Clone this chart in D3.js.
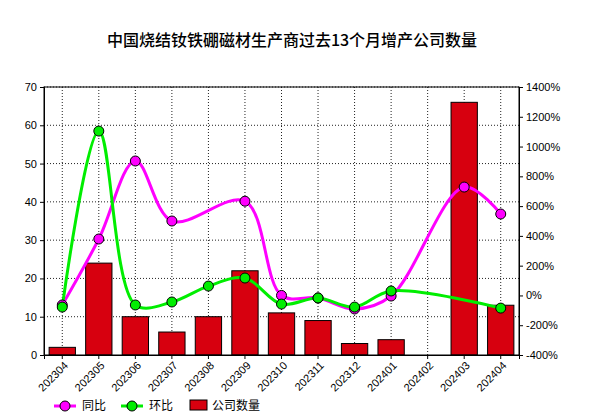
<!DOCTYPE html>
<html><head><meta charset="utf-8">
<script src="https://cdn.jsdelivr.net/npm/d3@7"></script>
<style>body{margin:0;background:#fff;font-family:"Liberation Sans",Arial,sans-serif}</style>
</head><body><div id="chart"></div>
<script>
const months = ['202304','202305','202306','202307','202308','202309','202310','202311','202312','202401','202402','202403','202404']
const counts = [2,24,10,6,10,22,11,9,3,4,0,66,13]
const yoy = [-64,379,903,500,null,633,0,-17,-91,-4,null,728,547]
const mom = [-78,1104,-64,-44,63,117,-58,-17,-78,30,null,null,-85]

const M = { TOP: 87, LEFT: 44, RIGHT: 519, BOTTOM: 355 }
const svg = d3.select('#chart').append('svg').attr('width', 590).attr('height', 416)

svg.append('text').attr('x', 292).attr('y', 46).attr('text-anchor', 'middle')
	.attr('font-size', 16).attr('font-weight', 500).attr('font-family', 'Noto Sans CJK SC').text('中国烧结钕铁硼磁材生产商过去13个月增产公司数量')

const x = d3.scaleBand().domain(months).range([M.LEFT, M.RIGHT]).paddingInner(0.28).paddingOuter(0.14)
const cx = d => x(d) + x.bandwidth() / 2
const yL = d3.scaleLinear().domain([0, 70]).range([M.BOTTOM, M.TOP])
const yR = d3.scaleLinear().domain([-400, 1400]).range([M.BOTTOM, M.TOP])

// grid
const grid = svg.append('g').attr('stroke', '#222').attr('stroke-dasharray', '1,2').attr('stroke-width', 1)
d3.range(10, 71, 10).forEach(v => grid.append('line').attr('x1', M.LEFT).attr('x2', M.RIGHT).attr('y1', yL(v)).attr('y2', yL(v)))
months.forEach(m => grid.append('line').attr('x1', cx(m)).attr('x2', cx(m)).attr('y1', M.TOP).attr('y2', M.BOTTOM))

// bars
svg.append('g').selectAll('rect').data(months).join('rect')
	.attr('x', d => x(d)).attr('width', x.bandwidth())
	.attr('y', (d, i) => yL(counts[i])).attr('height', (d, i) => M.BOTTOM - yL(counts[i]))
	.attr('fill', '#d7000f').attr('stroke', '#000').attr('stroke-width', 1)

svg.append('rect').attr('x', M.LEFT).attr('y', M.TOP).attr('width', M.RIGHT - M.LEFT).attr('height', M.BOTTOM - M.TOP)
	.attr('fill', 'none').attr('stroke', '#000')

// axes
const yAxisL = svg.append('g').attr('transform', `translate(${M.LEFT},0)`)
	.call(d3.axisLeft(yL).tickValues(d3.range(0, 71, 10)).tickSize(4))
const yAxisR = svg.append('g').attr('transform', `translate(${M.RIGHT},0)`)
	.call(d3.axisRight(yR).tickValues(d3.range(-400, 1401, 200)).tickSize(4).tickFormat(d => d + '%'))
const xAxis = svg.append('g').attr('transform', `translate(0,${M.BOTTOM})`)
	.call(d3.axisBottom(x).tickSize(4))
xAxis.selectAll('text').attr('transform', 'rotate(-45)').attr('text-anchor', 'end').attr('dx', '-0.3em').attr('dy', '0.5em')
;[yAxisL, yAxisR, xAxis].forEach(a => {
	a.selectAll('text').attr('font-size', 11).attr('fill', '#000').attr('font-family', 'Liberation Sans, Arial')
	a.select('.domain').attr('stroke', '#000')
})

// lines
function series(vals, color) {
	const pts = months.map((m, i) => [cx(m), vals[i]]).filter(p => p[1] !== null)
	svg.append('path').datum(pts)
		.attr('d', d3.line().x(p => p[0]).y(p => yR(p[1])).curve(d3.curveCatmullRom))
		.attr('fill', 'none').attr('stroke', color).attr('stroke-width', 3)
	return pts
}
const pY = series(yoy, '#ff00ff')
const pM = series(mom, '#00ee00')
const dots = (pts, color) => svg.append('g').selectAll('circle').data(pts).join('circle')
	.attr('cx', p => p[0]).attr('cy', p => yR(p[1])).attr('r', 5)
	.attr('fill', color).attr('stroke', '#000').attr('stroke-width', 1)
dots(pY, '#ff00ff')
dots(pM, '#00ee00')

// legend
const lg = svg.append('g').attr('font-size', 12).attr('font-family', 'Noto Sans CJK SC')
;[['同比', '#ff00ff', 54], ['环比', '#00ee00', 121]].forEach(([t, c, lx]) => {
	lg.append('line').attr('x1', lx).attr('x2', lx + 22).attr('y1', 406).attr('y2', 406).attr('stroke', c).attr('stroke-width', 3)
	lg.append('circle').attr('cx', lx + 11).attr('cy', 406).attr('r', 5).attr('fill', c).attr('stroke', '#000')
	lg.append('text').attr('x', lx + 28).attr('y', 410).text(t)
})
lg.append('rect').attr('x', 190).attr('y', 400).attr('width', 17).attr('height', 10).attr('fill', '#d7000f').attr('stroke', '#000')
lg.append('text').attr('x', 212).attr('y', 410).text('公司数量')
</script></body></html>
